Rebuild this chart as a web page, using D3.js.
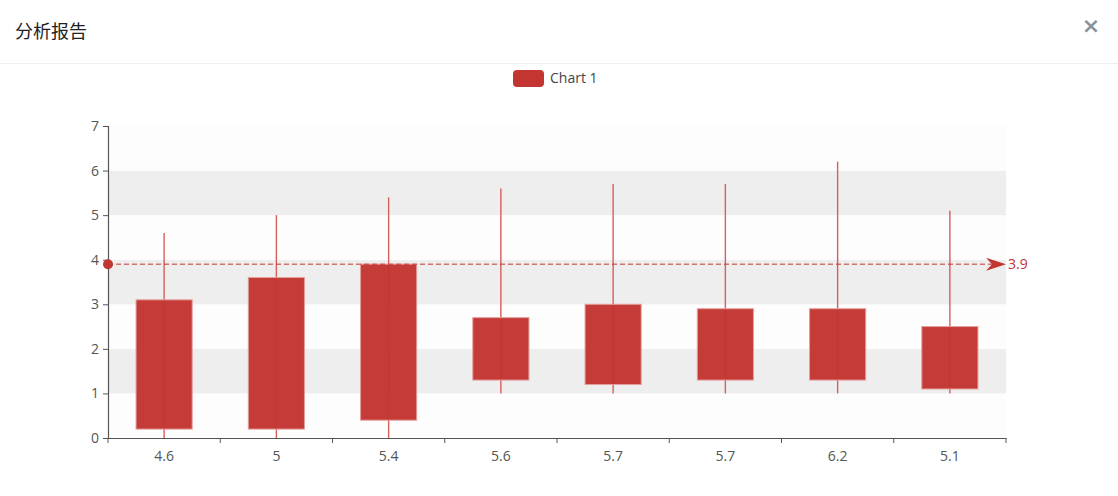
<!DOCTYPE html>
<html>
<head>
<meta charset="utf-8">
<script src="https://cdn.jsdelivr.net/npm/d3@7"></script>
<style>
  body { margin: 0; background: #fff; font-family: "Noto Sans CJK SC", "Noto Sans", sans-serif; }
  #wrap { position: relative; width: 1118px; height: 496px; overflow: hidden; }
</style>
</head>
<body>
<div id="wrap"></div>
<script>
// category labels (each is the whisker max)
const categories = ["4.6", "5", "5.4", "5.6", "5.7", "5.7", "6.2", "5.1"];
// box bottom / top and whisker min / max
const boxLow = [0.2, 0.2, 0.4, 1.3, 1.2, 1.3, 1.3, 1.1];
const boxHigh = [3.1, 3.6, 3.9, 2.7, 3.0, 2.9, 2.9, 2.5];
const whiskMin = [0, 0, 0, 1, 1, 1, 1, 1];
const whiskMax = [4.6, 5, 5.4, 5.6, 5.7, 5.7, 6.2, 5.1];
const markValue = 3.9;
const yTicks = [0, 1, 2, 3, 4, 5, 6, 7];
const seriesName = "Chart 1";

const width = 1118, height = 496;
const red = "#c23531";
const marginLeft = 108, marginRight = 112, marginTop = 126, marginBottom = 58;

const svg = d3.select("#wrap").append("svg")
  .attr("width", width).attr("height", height);

// header
svg.append("text")
  .attr("x", 15).attr("y", 38)
  .attr("font-size", 18).attr("fill", "#222")
  .attr("font-family", "Noto Sans CJK SC")
  .text("分析报告");
svg.append("text")
  .attr("x", 1091).attr("y", 33)
  .attr("text-anchor", "middle")
  .attr("font-size", 22).attr("font-weight", "bold").attr("fill", "#8a929c")
  .attr("font-family", "DejaVu Sans")
  .text("×");
svg.append("line")
  .attr("x1", 0).attr("x2", width).attr("y1", 63.5).attr("y2", 63.5)
  .attr("stroke", "#eeeeee");

// legend
svg.append("rect")
  .attr("x", 513).attr("y", 70).attr("width", 31).attr("height", 17)
  .attr("rx", 4).attr("fill", red);
svg.append("text")
  .attr("x", 550).attr("y", 83)
  .attr("font-size", 14).attr("fill", "#444")
  .attr("font-family", "Open Sans, Noto Sans")
  .text(seriesName);

// scales
const x = d3.scaleBand()
  .domain(d3.range(categories.length))
  .range([marginLeft, width - marginRight]);
const y = d3.scaleLinear()
  .domain([0, 7])
  .range([height - marginBottom, marginTop]);

// split areas
const bands = yTicks.slice(0, -1);
svg.append("g").selectAll("rect")
  .data(bands)
  .join("rect")
  .attr("x", marginLeft)
  .attr("width", width - marginRight - marginLeft)
  .attr("y", (d) => y(d + 1))
  .attr("height", (d) => y(d) - y(d + 1))
  .attr("fill", (d, i) => (i % 2 ? "#eeeeee" : "#fdfdfd"));

// axes
const axisColor = "#555";
const gx = svg.append("g")
  .attr("transform", `translate(0,${y(0)})`)
  .call(d3.axisBottom(x).tickSize(0).tickFormat((i) => categories[i]));
gx.select(".domain").attr("stroke", axisColor).attr("stroke-width", 1.2);
gx.selectAll("text").attr("dy", "1.45em").attr("font-size", 14).attr("fill", "#555")
  .attr("font-family", "Open Sans, Noto Sans");
// boundary ticks like echarts
svg.append("g").selectAll("line")
  .data(d3.range(categories.length + 1))
  .join("line")
  .attr("x1", (i) => marginLeft + i * x.step())
  .attr("x2", (i) => marginLeft + i * x.step())
  .attr("y1", y(0)).attr("y2", y(0) + 5)
  .attr("stroke", axisColor);

const gy = svg.append("g")
  .attr("transform", `translate(${marginLeft},0)`)
  .call(d3.axisLeft(y).tickValues(yTicks).tickSize(5).tickFormat(d3.format("d")));
gy.select(".domain").attr("stroke", axisColor).attr("stroke-width", 1.2);
gy.selectAll(".tick line").attr("stroke", axisColor);
gy.selectAll("text").attr("font-size", 14).attr("fill", "#555").attr("x", -9)
  .attr("font-family", "Open Sans, Noto Sans");

// boxes
const idx = d3.range(categories.length);
const boxW = x.bandwidth() * 0.5;
const cx = (i) => x(i) + x.bandwidth() / 2;

svg.append("g").selectAll("line")
  .data(idx)
  .join("line")
  .attr("x1", cx).attr("x2", cx)
  .attr("y1", (i) => y(whiskMin[i])).attr("y2", (i) => y(whiskMax[i]))
  .attr("stroke", "#d65f5c").attr("stroke-width", 1.4);

svg.append("g").selectAll("rect")
  .data(idx)
  .join("rect")
  .attr("x", (i) => cx(i) - boxW / 2)
  .attr("width", boxW)
  .attr("y", (i) => y(boxHigh[i]))
  .attr("height", (i) => y(boxLow[i]) - y(boxHigh[i]))
  .attr("fill", red).attr("fill-opacity", 0.97)
  .attr("stroke", "#e49d9b").attr("stroke-width", 1);

// mark line
const x0 = marginLeft, x1 = width - marginRight;
const my = y(markValue);
svg.append("line")
  .attr("x1", x0).attr("x2", x1 - 14)
  .attr("y1", my).attr("y2", my)
  .attr("stroke", red).attr("stroke-width", 1)
  .attr("stroke-dasharray", "5,3");
svg.append("circle")
  .attr("cx", x0).attr("cy", my).attr("r", 5)
  .attr("fill", red);
svg.append("path")
  .attr("d", `M${x1},${my} L${x1 - 20},${my - 6.5} L${x1 - 14},${my} L${x1 - 20},${my + 6.5} Z`)
  .attr("fill", red);
svg.append("text")
  .attr("x", x1 + 2).attr("y", my + 5)
  .attr("font-size", 14).attr("fill", red)
  .attr("font-family", "Open Sans, Noto Sans")
  .text(markValue);
</script>
</body>
</html>
